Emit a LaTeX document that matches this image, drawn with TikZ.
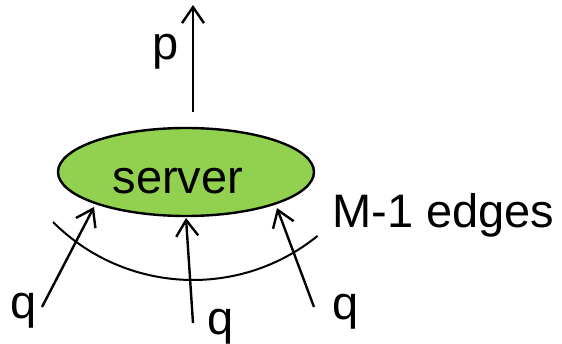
\documentclass[tikz,border=0pt]{standalone}
\usepackage{fontspec}
\setmainfont{Liberation Sans}
\usetikzlibrary{arrows.meta,shapes.geometric}
\definecolor{servergreen}{RGB}{146,208,80}
\begin{document}
\begin{tikzpicture}[x=1pt,y=1pt,
  lbl/.style={font=\fontsize{47}{56}\selectfont, inner sep=0pt, anchor=base},
  flow/.style={line width=2.4pt, -{Straight Barb[length=16pt,width=22pt]}},
  srvshape/.style={ellipse, draw, line width=2.4pt, fill=servergreen,
    minimum width=256pt, minimum height=88pt, inner sep=0pt}]
\useasboundingbox (0,0) rectangle (562,343);

% server node
\node[srvshape] (srv) at (186,171) {};
\node[lbl] (srvtxt) at (178,149) {server};

% outgoing edge
\coordinate (outstart) at (193,231);
\coordinate (outend) at (193,338);
\draw[flow] (outstart) -- (outend);
\node[lbl] (p) at (165.5,283) {p};

% incoming edges
\coordinate (tailL) at (42,36);
\coordinate (tailM) at (193,20);
\coordinate (tailR) at (314,36);
\coordinate (tipL) at (94,136);
\coordinate (tipM) at (186,125);
\coordinate (tipR) at (277,135);
\draw[flow] (tailL) -- (tipL);
\draw[flow] (tailM) -- (tipM);
\draw[flow] (tailR) -- (tipR);

\node[lbl] (qL) at (23.5,25) {q};
\node[lbl] (qM) at (221,9) {q};
\node[lbl] (qR) at (346,24) {q};

% brace arc over the incoming edges
\coordinate (arcstart) at (53,121);
\draw[line width=2pt] (arcstart) arc[start angle=225, end angle=309, radius=198pt];
\node[lbl, anchor=base west] (medges) at (332,116) {M-1 edges};
\end{tikzpicture}
\end{document}
